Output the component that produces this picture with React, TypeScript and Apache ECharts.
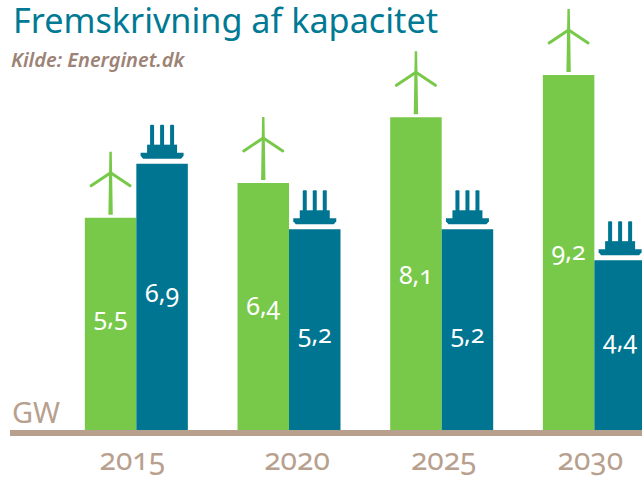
import React, { useEffect, useRef } from "react";
import * as echarts from "echarts";

const years = ["2015", "2020", "2025", "2030"];
const wind = [5.5, 6.4, 8.1, 9.2];
const offshore = [6.9, 5.2, 5.2, 4.4];
const titleText = "Fremskrivning af kapacitet";
const sourceText = "Kilde: Energinet.dk";
const unitText = "GW";

const GREEN = "#78c94a";
const BLUE = "#007591";
const TAUPE = "#b8a08f";
const FONT = "'Noto Sans', 'Open Sans', sans-serif";
const BAR = 51.5;
const windLabelShift = [-8, -1, 0, -2];
const offshoreLabelShift = [-5, 3, 3, -6];

const comma = (p: any) => String(p.value).replace(".", ",");

function turbine(x: number, y: number, color: string) {
  const blade = (x2: number, y2: number) => ({
    type: "line",
    shape: { x1: 0, y1: -45, x2, y2 },
    style: { stroke: color, lineWidth: 3, lineCap: "round" },
  });
  return {
    type: "group",
    x,
    y,
    children: [
      { type: "polygon", shape: { points: [[-1.2, -66], [1.2, -66], [2.2, -3], [-2.2, -3]] }, style: { fill: color } },
      blade(-19.5, -32),
      blade(19.5, -32),
    ],
  };
}

function platform(x: number, y: number, color: string) {
  const leg = (c: number) => ({ type: "rect", shape: { x: c - 2, y: -39, width: 4, height: 21, r: 1 }, style: { fill: color } });
  return {
    type: "group",
    x,
    y,
    children: [
      leg(-10),
      leg(0),
      leg(10),
      { type: "rect", shape: { x: -15, y: -19, width: 30, height: 9 }, style: { fill: color } },
      { type: "polygon", shape: { points: [[-21.5, -11], [21.5, -11], [21.5, -8], [19, -5], [-19, -5], [-21.5, -8]] }, style: { fill: color } },
    ],
  };
}

export default function App() {
  const ref = useRef<HTMLDivElement>(null);
  useEffect(() => {
    document.body.style.margin = "0";
    const chart = echarts.init(ref.current!, null, { renderer: "svg" });
    const labelStyle = { show: true, position: "inside", color: "#fff", fontSize: 25, fontFamily: FONT, formatter: comma };
    const yearStyle = { color: TAUPE, fontSize: 30, fontFamily: FONT };
    const shifted = (values: number[], shifts: number[]) =>
      values.map((value, i) => ({ value, label: { offset: [0, shifts[i]] } }));
    chart.setOption({
      animation: false,
      backgroundColor: "#fff",
      title: [
        { text: titleText, left: 13, top: 2, padding: 0, textStyle: { color: "#007a94", fontSize: 34.2, fontWeight: 400, fontFamily: FONT } },
        { text: sourceText, left: 11, top: 49, padding: 0, textStyle: { color: "#9c8376", fontSize: 20, fontWeight: 600, fontStyle: "italic", fontFamily: FONT } },
      ],
      grid: { left: 60, width: 610.7, top: 44, height: 386, outerBoundsMode: "none" },
      xAxis: {
        type: "category",
        data: years,
        axisLine: { show: false },
        axisTick: { show: false },
        axisLabel: {
          fontSize: 30,
          fontFamily: FONT,
          color: TAUPE,
          margin: 13,
          interval: 0,
          formatter: (v: string) => `{y${v}|${v}}`,
          rich: {
            y2015: { ...yearStyle, padding: [0, 8, 0, 0] },
            y2020: { ...yearStyle, padding: [0, 0, 0, 16] },
            y2025: { ...yearStyle, padding: [0, 0, 0, 4] },
            y2030: { ...yearStyle, padding: [0, 8, 0, 0] },
          },
        },
      },
      yAxis: { type: "value", min: 0, max: 10, show: false, splitLine: { show: false } },
      series: [
        { type: "bar", name: "Vind", data: shifted(wind, windLabelShift), barWidth: BAR, barGap: 0, itemStyle: { color: GREEN }, label: labelStyle },
        { type: "bar", name: "Hav", data: shifted(offshore, offshoreLabelShift), barWidth: BAR, barGap: 0, itemStyle: { color: BLUE }, label: labelStyle },
        {
          type: "custom",
          silent: true,
          data: wind.map((v, i) => [i, v]),
          renderItem: (_: any, api: any) => {
            const p = api.coord([api.value(0), api.value(1)]);
            return turbine(p[0] - BAR / 2, p[1], GREEN);
          },
        },
        {
          type: "custom",
          silent: true,
          data: offshore.map((v, i) => [i, v]),
          renderItem: (_: any, api: any) => {
            const p = api.coord([api.value(0), api.value(1)]);
            return platform(p[0] + BAR / 2, p[1], BLUE);
          },
        },
      ],
      graphic: [
        { type: "rect", shape: { x: 10, y: 430, width: 632, height: 6 }, style: { fill: TAUPE } },
        { type: "text", x: 12, y: 397, style: { text: unitText, fill: TAUPE, fontSize: 29, fontFamily: FONT } },
      ],
    });
    return () => chart.dispose();
  }, []);
  return <div ref={ref} style={{ width: 642, height: 478, fontFeatureSettings: '"onum"' }} />;
}
